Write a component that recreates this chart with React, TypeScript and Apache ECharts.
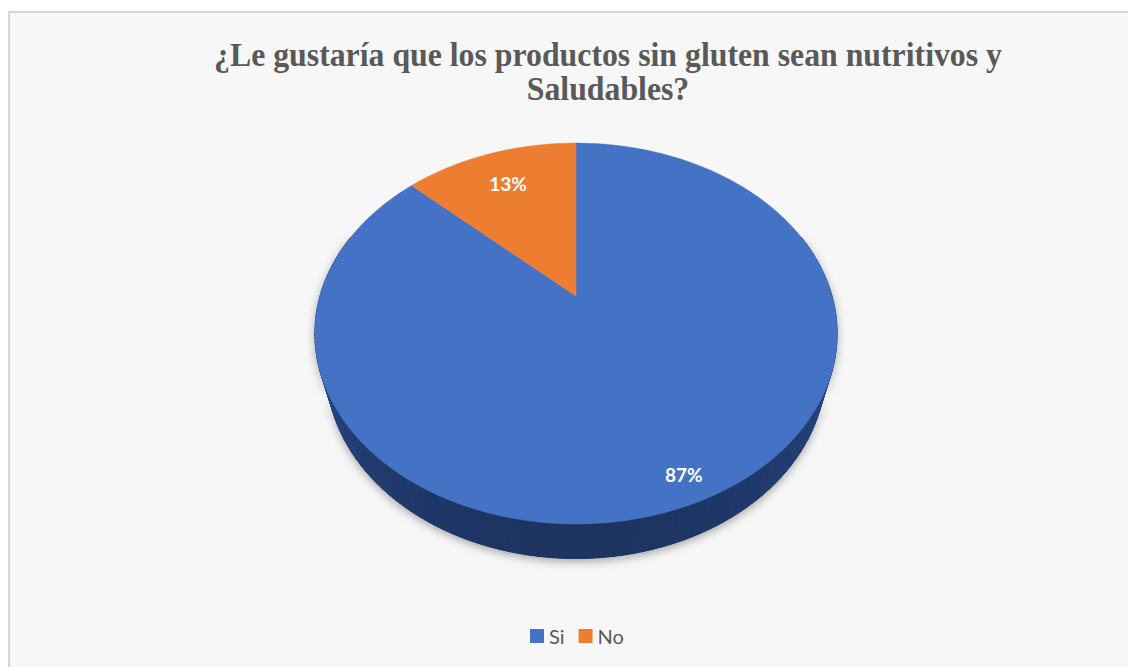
import React, { useEffect, useRef } from "react";
import * as echarts from "echarts";

const CATEGORIES = ["Si", "No"];
const VALUES = [87, 13];
const COLORS = ["#4472C4", "#ED7D31"];
const TITLE_LINES = [
  "¿Le gustaría que los productos sin gluten sean nutritivos y",
  "Saludables?",
];

// 3D projection style constants
const CX = 576;
const CY = 296;
const SX = 256;
const K = 0.282;
const CA = 0.699;
const SA = 0.715;
const T = 0.22;
const LABEL_R = [0.89, 0.76];
const DEG = Math.PI / 180;

function proj(phi: number, r: number, y: number): number[] {
  const x = r * Math.sin(phi);
  const z = r * Math.cos(phi);
  const d = 1 + K * (z * CA - y * SA);
  const up = y * CA + z * SA;
  return [CX + (SX * x) / d, CY - (SX * up) / d];
}

function arc(a0: number, a1: number, r: number, y: number): number[][] {
  const n = Math.max(2, Math.ceil((a1 - a0) / DEG));
  const pts: number[][] = [];
  for (let k = 0; k <= n; k++) pts.push(proj(a0 + ((a1 - a0) * k) / n, r, y));
  return pts;
}

function mix(c1: number[], c2: number[], t: number): string {
  const c = c1.map((v, i) => Math.round(v + (c2[i] - v) * t));
  return `rgb(${c[0]},${c[1]},${c[2]})`;
}

const SIDE_LIGHT = [44, 78, 143];
const SIDE_DARK = [29, 52, 98];

function makeRenderItem(i: number) {
  return (params: any, api: any) => {
    const total = VALUES.reduce((s, v) => s + v, 0);
    let acc = 0;
    for (let j = 0; j < i; j++) acc += VALUES[j];
    const a0 = (acc / total) * 2 * Math.PI;
    const a1 = ((acc + Number(api.value(0))) / total) * 2 * Math.PI;
    const children: any[] = [];
    const v0 = Math.max(a0, 70 * DEG);
    const v1 = Math.min(a1, 290 * DEG);
    if (v1 > v0) {
      const band = arc(v0, v1, 1, 0).concat(arc(v0, v1, 1, -T).reverse());
      children.push({
        type: "polygon",
        shape: { points: band },
        style: {
          fill: "#1f3868",
          shadowBlur: 10,
          shadowColor: "rgba(0,0,0,0.35)",
          shadowOffsetY: 3,
        },
      });
      const n = Math.ceil((v1 - v0) / (2 * DEG));
      for (let k = 0; k < n; k++) {
        const b0 = v0 + ((v1 - v0) * k) / n;
        const b1 = v0 + ((v1 - v0) * (k + 1)) / n;
        const mid = (b0 + b1) / 2;
        const t = Math.max(0, Math.cos(mid - Math.PI));
        const col = mix(SIDE_LIGHT, SIDE_DARK, t);
        children.push({
          type: "polygon",
          shape: {
            points: [proj(b0, 1, 0), proj(b1, 1, 0), proj(b1, 1, -T), proj(b0, 1, -T)],
          },
          style: { fill: col, stroke: col, lineWidth: 1 },
        });
      }
    }
    const top = [[CX, CY]].concat(arc(a0, a1, 1, 0));
    children.push({
      type: "polygon",
      shape: { points: top },
      style: { fill: COLORS[i], stroke: COLORS[i], lineWidth: 0.5 },
    });
    const mid = (a0 + a1) / 2;
    const [lx, ly] = proj(mid, LABEL_R[i], 0);
    const pct = Math.round((Number(api.value(0)) / total) * 100);
    children.push({
      type: "text",
      x: lx,
      y: ly,
      style: {
        text: pct + "%",
        fill: "#ffffff",
        font: "bold 19px Lato",
        align: "center",
        verticalAlign: "middle",
        textAlign: "center",
        textVerticalAlign: "middle",
      },
    });
    return { type: "group", children };
  };
}

export default function App() {
  const ref = useRef<HTMLDivElement>(null);
  useEffect(() => {
    if (!ref.current) return;
    const chart = echarts.init(ref.current, null, { renderer: "svg" });
    chart.setOption({
      animation: false,
      color: COLORS,
      graphic: [
        {
          type: "rect",
          z: -10,
          silent: true,
          shape: { x: 9, y: 12, width: 1200, height: 700 },
          style: { fill: "#f7f7f7", stroke: "#d6d6d6", lineWidth: 2 },
        },
        {
          type: "text",
          x: 608,
          y: 55,
          scaleX: 0.935,
          style: {
            text: TITLE_LINES[0],
            font: 'bold 34px "Liberation Serif"',
            fill: "#595959",
            align: "center",
            verticalAlign: "middle",
            textAlign: "center",
            textVerticalAlign: "middle",
          },
        },
        {
          type: "text",
          x: 608,
          y: 89,
          scaleX: 0.935,
          style: {
            text: TITLE_LINES[1],
            font: 'bold 34px "Liberation Serif"',
            fill: "#595959",
            align: "center",
            verticalAlign: "middle",
            textAlign: "center",
            textVerticalAlign: "middle",
          },
        },
      ],
      legend: {
        data: CATEGORIES,
        left: 530,
        top: 626,
        padding: 0,
        itemWidth: 14,
        itemHeight: 14,
        itemGap: 14,
        icon: "rect",
        textStyle: { fontSize: 20, color: "#595959", fontFamily: "Lato" },
      },
      series: CATEGORIES.map((name, i) => ({
        type: "custom",
        name,
        coordinateSystem: "none",
        data: [VALUES[i]],
        itemStyle: { color: COLORS[i] },
        renderItem: makeRenderItem(i),
      })),
    });
    return () => chart.dispose();
  }, []);
  return (
    <div
      ref={ref}
      style={{ position: "absolute", left: 0, top: 0, width: 1128, height: 667 }}
    />
  );
}
